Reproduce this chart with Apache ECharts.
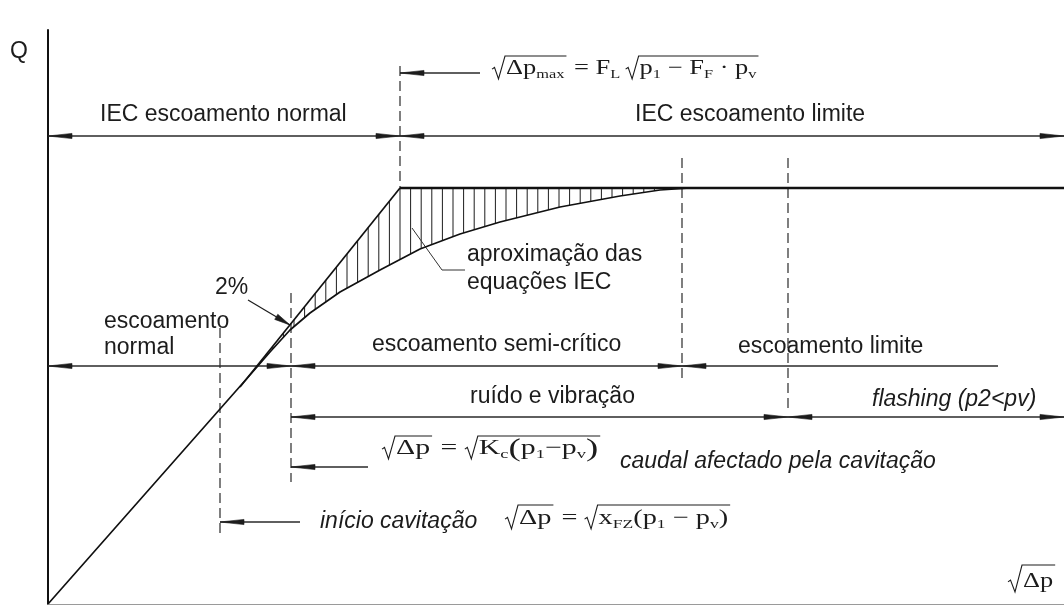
<!DOCTYPE html>
<html>
<head>
<meta charset="utf-8">
<title>Caudal em função de √Δp</title>
<script src="https://cdn.jsdelivr.net/npm/echarts@6/dist/echarts.min.js"></script>
<style>
  html, body { margin: 0; padding: 0; background: #fff; }
  #chart { width: 1064px; height: 607px; }
</style>
</head>
<body>
<div id="chart"></div>
<script>
// Diagram units: horizontal = √Δp, vertical = Q (arbitrary, 1 unit = 10 px)
const realFlow = [[0, 0], [20.2, 22.9], [22.2, 25.2], [24.2, 27.4], [26.2, 29.1], [29.2, 31.2],
  [33.2, 33.4], [37.2, 35.5], [41.2, 37.0], [45.2, 38.2], [51.2, 39.7], [57.2, 40.8],
  [61.2, 41.4], [64.2, 41.6], [101.6, 41.6]];
const iecApprox = [[19.2, 21.7], [35.2, 41.6]];
const plateau = [[35.2, 41.6], [101.6, 41.6]];

// characteristic √Δp positions
const xFZ = 17.2;     // início da cavitação
const xKc = 24.3;     // caudal afectado pela cavitação
const xMax = 35.2;    // √Δp max (IEC)
const xLimit = 63.4;  // escoamento limite
const xFlash = 74.0;  // flashing
const xEnd = 101.6;

// heights of the dimension rows
const rowFormula = 53.1, rowIEC = 46.8, rowRegime = 23.8, rowNoise = 18.7, rowKc = 13.7, rowFZ = 8.2;

// [from, to, row, arrow at start, arrow at end]
const dimLines = [
  [0, xMax, rowIEC, 1, 1], [xMax, xEnd, rowIEC, 1, 1],
  [xMax, 43.2, rowFormula, 1, 0],
  [0, xKc, rowRegime, 1, 1], [xKc, xLimit, rowRegime, 1, 1], [xLimit, 95.0, rowRegime, 1, 0],
  [xKc, xFlash, rowNoise, 1, 1], [xFlash, xEnd, rowNoise, 1, 1],
  [xKc, 32.0, rowKc, 1, 0],
  [xFZ, 25.2, rowFZ, 1, 0]
];
// dashed guides: [x, yTop, yBottom]
const guides = [[xMax, 53.8, 41.6], [xFZ, 27.6, 6.6], [xKc, 31.1, 12.2], [xLimit, 44.6, 22.2], [xFlash, 44.6, 19.2]];
const pctArrow = [[20.0, 30.4], [24.2, 27.9]];
const leader = [[36.4, 37.6], [39.4, 33.4], [41.7, 33.4]];
const hatchStep = 1.06;

const INK = '#1c1c1c';
const SANS = '"Liberation Sans", Arial, sans-serif';
const SERIF = '"Liberation Serif", "Times New Roman", serif';

function interp(pts, x) {
  for (let i = 1; i < pts.length; i++) {
    if (x <= pts[i][0]) {
      const [x0, y0] = pts[i - 1], [x1, y1] = pts[i];
      return y0 + (y1 - y0) * (x - x0) / (x1 - x0);
    }
  }
  return pts[pts.length - 1][1];
}
const upper = iecApprox.concat(plateau.slice(1));
const hatch = [];
for (let k = -20; k < 40; k++) {
  const x = xMax + k * hatchStep;
  if (x <= iecApprox[0][0] + 0.3 || x >= 64) continue;
  const top = interp(upper, x), bottom = interp(realFlow, x);
  if (top - bottom > 0.12) hatch.push([x, bottom, top]);
}

function arrowHead(tip, from, len, half) {
  const dx = tip[0] - from[0], dy = tip[1] - from[1];
  const d = Math.hypot(dx, dy) || 1, ux = dx / d, uy = dy / d;
  const bx = tip[0] - ux * len, by = tip[1] - uy * len;
  return {
    type: 'polygon',
    shape: { points: [tip, [bx - uy * half, by + ux * half], [bx + uy * half, by - ux * half]] },
    style: { fill: INK, stroke: INK, lineWidth: 0.6 }
  };
}

const measureCtx = document.createElement('canvas').getContext('2d');
function measure(text, font) { measureCtx.font = font; return measureCtx.measureText(text).width; }

// lays out a small formula: strings are normal text, {sub} objects are subscripts,
// {big} objects are enlarged brackets, '√(' / ')√' open and close a radical with its overline
function formula(x0, base, tokens, o) {
  const mainFont = o.size + 'px ' + SERIF;
  const subFont = o.sub + 'px ' + SERIF;
  const bigSize = Math.round(o.size * 1.25);
  const bigFont = bigSize + 'px ' + SERIF;
  const els = [], open = [];
  let x = x0;
  for (const tk of tokens) {
    if (tk === '√(') { open.push(x); x += o.radW + 1; continue; }
    if (tk === ')√') {
      const xs = open.pop(), top = base - o.radH;
      els.push({
        type: 'polyline', silent: true,
        shape: { points: [[xs, base - o.size * 0.28], [xs + 2.5, base - o.size * 0.36],
          [xs + o.radW * 0.5, base + 4], [xs + o.radW, top], [x + 2, top]] },
        style: { stroke: INK, lineWidth: 1.1, fill: null }
      });
      x += 3; continue;
    }
    let txt = tk, font = mainFont, size = o.size, b = base;
    if (typeof tk === 'object' && tk.sub !== undefined) {
      txt = tk.sub; font = subFont; size = o.sub; b = base + o.sub * 0.3;
    } else if (typeof tk === 'object' && tk.big !== undefined) {
      txt = tk.big; font = bigFont; size = bigSize; b = base + 2;
    }
    els.push({
      type: 'text', silent: true, x: x, y: b - size * 0.31, scaleX: o.sx,
      style: { text: txt, font: font, fill: INK, textAlign: 'left', textVerticalAlign: 'middle' }
    });
    x += measure(txt, font) * o.sx;
  }
  return els;
}

const labels = [
  { text: 'Q', x: 10, y: 52 },
  { text: 'IEC escoamento normal', x: 100, y: 115 },
  { text: 'IEC escoamento limite', x: 635, y: 115 },
  { text: 'aproximação das', x: 467, y: 255 },
  { text: 'equações IEC', x: 467, y: 283 },
  { text: '2%', x: 215, y: 288 },
  { text: 'escoamento', x: 104, y: 322 },
  { text: 'normal', x: 104, y: 348 },
  { text: 'escoamento semi-crítico', x: 372, y: 345 },
  { text: 'escoamento limite', x: 738, y: 347 },
  { text: 'ruído e vibração', x: 470, y: 397 },
  { text: 'flashing (p2<pv)', x: 872, y: 400, italic: true },
  { text: 'caudal afectado pela cavitação', x: 620, y: 462, italic: true },
  { text: 'início cavitação', x: 320, y: 522, italic: true }
];

const graphics = labels.map(l => ({
  type: 'text', silent: true, x: l.x, y: l.y,
  style: { text: l.text, font: (l.italic ? 'italic ' : '') + '23px ' + SANS, fill: INK,
    textAlign: 'left', textVerticalAlign: 'middle' }
}));

const eq = { size: 21, sub: 13, sx: 1.3, radW: 13, radH: 19 };
graphics.push(...formula(492, 75, ['√(', 'Δp', { sub: 'max' }, ')√', ' = ', 'F', { sub: 'L' }, '\u2009',
  '√(', 'p', { sub: '1' }, ' − ', 'F', { sub: 'F' }, ' · ', 'p', { sub: 'v' }, ')√'], Object.assign({}, eq, { sx: 1.26 })));
graphics.push(...formula(382, 455, ['√(', 'Δp', ')√', ' = ', '√(', 'K', { sub: 'c' }, { big: '(' }, 'p', { sub: '1' },
  '−', 'p', { sub: 'v' }, { big: ')' }, ')√'], Object.assign({}, eq, { sx: 1.42 })));
graphics.push(...formula(505, 525, ['√(', 'Δp', ')√', ' = ', '√(', 'x', { sub: 'FZ' }, '(', 'p', { sub: '1' },
  ' − ', 'p', { sub: 'v' }, ')', ')√'], Object.assign({}, eq, { sx: 1.35, radH: 20 })));
graphics.push(...formula(1008, 588, ['√(', 'Δp', ')√'], { size: 22, sub: 13, sx: 1.2, radW: 14, radH: 23 }));

const chart = echarts.init(document.getElementById('chart'), null, { renderer: 'canvas' });
chart.setOption({
  animation: false,
  backgroundColor: '#fff',
  grid: { left: 48, right: 0, top: 30, bottom: 3, outerBoundsMode: 'none' },
  xAxis: {
    type: 'value', min: 0, max: xEnd,
    axisLine: { show: true, onZero: false, lineStyle: { color: '#9a9a9a', width: 1 } },
    axisTick: { show: false }, axisLabel: { show: false }, splitLine: { show: false }
  },
  yAxis: {
    type: 'value', min: 0, max: 57.4,
    axisLine: { show: true, onZero: false, lineStyle: { color: '#111', width: 2 } },
    axisTick: { show: false }, axisLabel: { show: false }, splitLine: { show: false }
  },
  series: [
    {
      name: 'tracejado', type: 'custom', data: hatch, z: 2, encode: { x: 0, y: 1 },
      renderItem: (params, api) => {
        const a = api.coord([api.value(0), api.value(1)]);
        const b = api.coord([api.value(0), api.value(2)]);
        return { type: 'line', shape: { x1: a[0], y1: a[1], x2: b[0], y2: b[1] },
          style: { stroke: INK, lineWidth: 1 } };
      }
    },
    {
      name: 'guias', type: 'custom', data: guides, z: 3, encode: { x: 0, y: 1 },
      renderItem: (params, api) => {
        const a = api.coord([api.value(0), api.value(1)]);
        const b = api.coord([api.value(0), api.value(2)]);
        return { type: 'line', shape: { x1: a[0], y1: a[1], x2: b[0], y2: b[1] },
          style: { stroke: '#2a2a2a', lineWidth: 1.2, lineDash: [10, 5] } };
      }
    },
    {
      name: 'cotas', type: 'custom', data: dimLines, z: 4, encode: { x: 0, y: 2 },
      renderItem: (params, api) => {
        const a = api.coord([api.value(0), api.value(2)]);
        const b = api.coord([api.value(1), api.value(2)]);
        const children = [{ type: 'line', shape: { x1: a[0], y1: a[1], x2: b[0], y2: b[1] },
          style: { stroke: '#2a2a2a', lineWidth: 1.3 } }];
        if (api.value(3)) children.push(arrowHead(a, b, 24, 2.6));
        if (api.value(4)) children.push(arrowHead(b, a, 24, 2.6));
        return { type: 'group', children };
      }
    },
    {
      name: 'indicadores', type: 'custom', data: [0], z: 4,
      renderItem: (params, api) => {
        const p = pctArrow.map(v => api.coord(v));
        const l = leader.map(v => api.coord(v));
        return { type: 'group', children: [
          { type: 'line', shape: { x1: p[0][0], y1: p[0][1], x2: p[1][0], y2: p[1][1] },
            style: { stroke: INK, lineWidth: 1.2 } },
          arrowHead(p[1], p[0], 16, 3),
          { type: 'polyline', shape: { points: l }, style: { stroke: '#333', lineWidth: 1, fill: null } }
        ] };
      }
    },
    {
      name: 'caudal real', type: 'line', data: realFlow, showSymbol: false, z: 5,
      lineStyle: { color: '#111', width: 1.7 }
    },
    {
      name: 'aproximação IEC', type: 'line', data: iecApprox, showSymbol: false, z: 5,
      lineStyle: { color: '#111', width: 1.7 }
    },
    {
      name: 'escoamento limite', type: 'line', data: plateau, showSymbol: false, z: 5,
      lineStyle: { color: '#111', width: 2.3 }
    }
  ],
  graphic: graphics
});
</script>
</body>
</html>
